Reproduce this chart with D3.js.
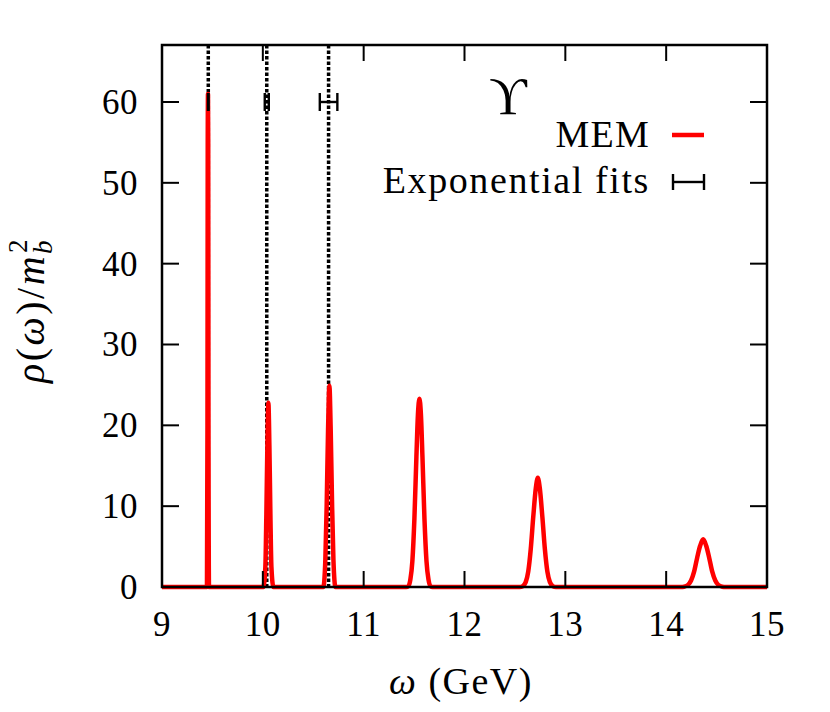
<!DOCTYPE html>
<html>
<head>
<meta charset="utf-8">
<script src="https://cdn.jsdelivr.net/npm/d3@7/dist/d3.min.js"></script>
<style>
  html, body { margin: 0; padding: 0; background: #fff; }
  svg { display: block; }
  text { font-family: "Liberation Serif", "DejaVu Serif", serif; fill: #000; }
</style>
</head>
<body>
<svg id="chart" width="830" height="712"></svg>
<script>
// ---- data ----
const xTicks = [9, 10, 11, 12, 13, 14, 15];
const yTicks = [0, 10, 20, 30, 40, 50, 60];

// MEM spectral function, sampled around each peak (omega in GeV, rho/m_b^2)
const memPeak1 = [[9.446, 0], [9.451, 20], [9.4535, 55], [9.456, 61], [9.4585, 55], [9.461, 20], [9.466, 0]];
const memPeak2 = [[10.005, 0], [10.025, 2.5], [10.035, 9], [10.045, 17.5], [10.055, 22.8], [10.065, 17.5], [10.075, 9], [10.085, 2.5], [10.105, 0]];
const memPeak3 = [[10.60, 0], [10.62, 3.4], [10.633, 10], [10.647, 19.5], [10.66, 24.9], [10.673, 19.5], [10.687, 10], [10.70, 3.4], [10.72, 0]];
const memPeak4 = [[11.423, 0], [11.443, 0.1], [11.463, 0.9], [11.483, 3.2], [11.503, 8.4], [11.523, 16.1], [11.538, 21.3], [11.553, 23.3],
                  [11.568, 21.3], [11.583, 16.1], [11.603, 8.4], [11.623, 3.2], [11.643, 0.9], [11.663, 0.1], [11.683, 0]];
const memPeak5 = [[12.547, 0], [12.577, 0.1], [12.607, 0.6], [12.632, 1.9], [12.657, 4.7], [12.682, 8.7], [12.707, 12.2], [12.727, 13.5],
                  [12.747, 12.2], [12.772, 8.7], [12.797, 4.7], [12.822, 1.9], [12.847, 0.6], [12.877, 0.1], [12.907, 0]];
const memPeak6 = [[14.147, 0], [14.177, 0.04], [14.217, 0.26], [14.247, 0.8], [14.277, 1.9], [14.307, 3.6], [14.337, 5.1], [14.367, 5.9],
                  [14.397, 5.1], [14.427, 3.6], [14.457, 1.9], [14.487, 0.8], [14.517, 0.26], [14.557, 0.04], [14.587, 0]];
const memStart = [[9.0, 0]];
const memEnd = [[15.0, 0]];

// Exponential fits: masses (GeV), errors (GeV), plotted at rho = 60
const fitMass = [9.459, 10.039, 10.652];
const fitErr = [0.003, 0.02, 0.087];
const fitLevel = [60, 60, 60];

// ---- drawing ----
const svg = d3.select("#chart");
const L = 162, R = 767, T = 45, B = 587;
const x = d3.scaleLinear().domain([9, 15]).range([L, R]);
const y = d3.scaleLinear().domain([0, 67.05]).range([B, T]);

const memData = [].concat(memStart, memPeak1, memPeak2, memPeak3, memPeak4, memPeak5, memPeak6, memEnd);

// dotted vertical lines at fitted masses
svg.append("g").selectAll("line").data(fitMass).join("line")
  .attr("x1", d => x(d)).attr("x2", d => x(d))
  .attr("y1", T).attr("y2", B)
  .attr("stroke", "#000").attr("stroke-width", 3.5)
  .attr("stroke-dasharray", "3.5,2");

// MEM curve
const line = d3.line().x(d => x(d[0])).y(d => y(d[1])).curve(d3.curveMonotoneX);
svg.append("path").datum(memData)
  .attr("d", line)
  .attr("fill", "none").attr("stroke", "#ff0000").attr("stroke-width", 4.5)
  .attr("stroke-linejoin", "round");

// error bars
const eb = svg.append("g").attr("stroke", "#000").attr("stroke-width", 2.4);
fitMass.forEach((m, i) => {
  const cy = y(fitLevel[i]);
  const x0 = x(m - fitErr[i]), x1 = x(m + fitErr[i]);
  eb.append("line").attr("x1", x0).attr("x2", x1).attr("y1", cy).attr("y2", cy);
  eb.append("line").attr("x1", x0).attr("x2", x0).attr("y1", cy - 9).attr("y2", cy + 9);
  eb.append("line").attr("x1", x1).attr("x2", x1).attr("y1", cy - 9).attr("y2", cy + 9);
});

// frame and ticks
const axG = svg.append("g").attr("stroke", "#000").attr("stroke-width", 2);
xTicks.forEach(t => {
  axG.append("line").attr("x1", x(t)).attr("x2", x(t)).attr("y1", B).attr("y2", B - 16);
  axG.append("line").attr("x1", x(t)).attr("x2", x(t)).attr("y1", T).attr("y2", T + 16);
});
yTicks.forEach(t => {
  axG.append("line").attr("x1", L).attr("x2", L + 17).attr("y1", y(t)).attr("y2", y(t));
  axG.append("line").attr("x1", R).attr("x2", R - 17).attr("y1", y(t)).attr("y2", y(t));
});
svg.append("rect").attr("x", L).attr("y", T).attr("width", R - L).attr("height", B - T)
  .attr("fill", "none").attr("stroke", "#000").attr("stroke-width", 2.5);

// tick labels
svg.append("g").selectAll("text").data(xTicks).join("text")
  .attr("x", d => x(d)).attr("y", 636)
  .attr("text-anchor", "middle").attr("font-size", 35).attr("letter-spacing", 0.5)
  .text(d => d);
svg.append("g").selectAll("text").data(yTicks).join("text")
  .attr("x", 138).attr("y", d => y(d) + 12)
  .attr("text-anchor", "end").attr("font-size", 35).attr("letter-spacing", 0.5)
  .text(d => d);

// axis titles
const xl = svg.append("text").attr("x", 461).attr("y", 694).attr("text-anchor", "middle")
  .attr("font-size", 38).attr("letter-spacing", 1.5);
xl.append("tspan").attr("font-style", "italic").text("ω");
xl.append("tspan").text(" (GeV)");

const yl = svg.append("text").attr("transform", "translate(44,310) rotate(-90)")
  .attr("text-anchor", "middle").attr("font-size", 40).attr("letter-spacing", 2.5);
yl.append("tspan").attr("font-style", "italic").text("ρ");
yl.append("tspan").text("(");
yl.append("tspan").attr("font-style", "italic").text("ω");
yl.append("tspan").text(")/");
yl.append("tspan").attr("font-style", "italic").text("m");
yl.append("tspan").attr("font-style", "italic").attr("font-size", 27).attr("dy", 8).text("b");
yl.append("tspan").attr("font-size", 27).attr("dx", -15).attr("dy", -25).text("2");

// legend
svg.append("text").attr("x", 508).attr("y", 114).attr("text-anchor", "middle")
  .attr("font-size", 52).text("ϒ");
svg.append("text").attr("x", 650).attr("y", 147).attr("text-anchor", "end")
  .attr("font-size", 38).attr("letter-spacing", 1.2).text("MEM");
svg.append("line").attr("x1", 672).attr("x2", 704).attr("y1", 135).attr("y2", 135)
  .attr("stroke", "#ff0000").attr("stroke-width", 4.5);
svg.append("text").attr("x", 650).attr("y", 193).attr("text-anchor", "end")
  .attr("font-size", 38).attr("letter-spacing", 1.6).text("Exponential fits");
const lg = svg.append("g").attr("stroke", "#000").attr("stroke-width", 2.4);
lg.append("line").attr("x1", 673).attr("x2", 704).attr("y1", 182).attr("y2", 182);
lg.append("line").attr("x1", 673).attr("x2", 673).attr("y1", 174).attr("y2", 190);
lg.append("line").attr("x1", 704).attr("x2", 704).attr("y1", 174).attr("y2", 190);
</script>
</body>
</html>
